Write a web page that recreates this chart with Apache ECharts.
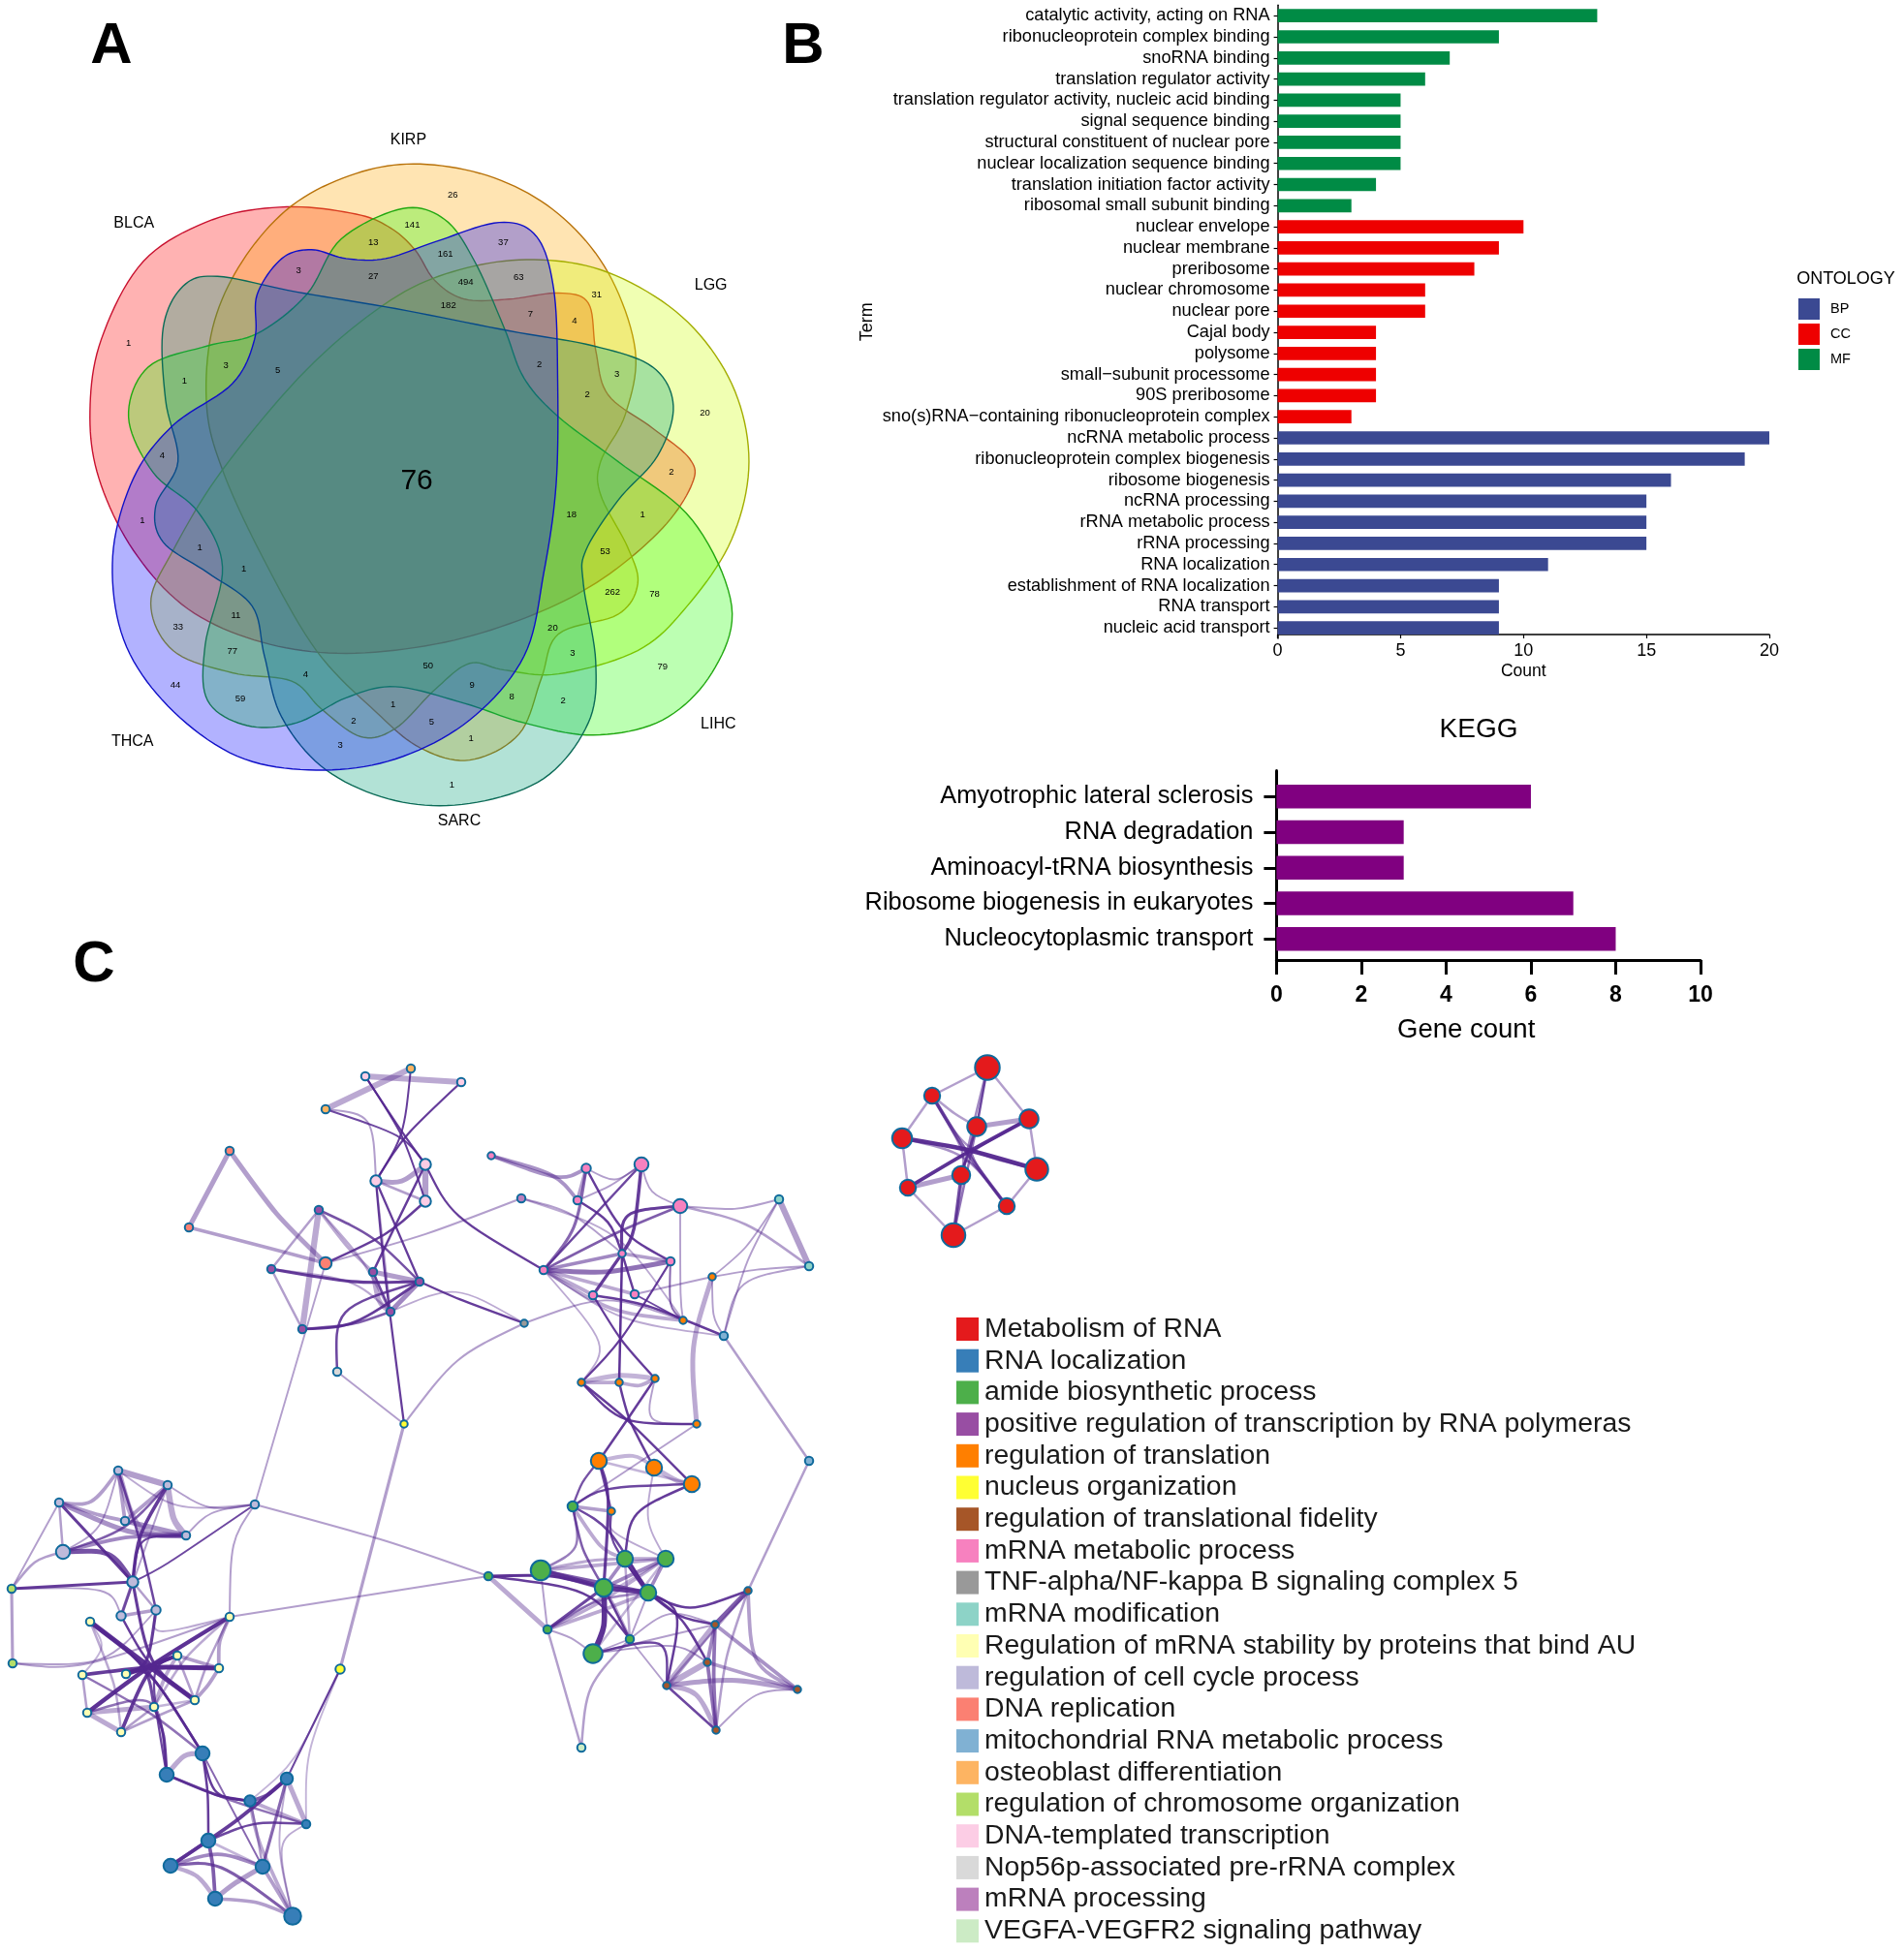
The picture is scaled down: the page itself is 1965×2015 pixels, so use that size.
<!DOCTYPE html>
<html><head><meta charset="utf-8">
<style>html,body{margin:0;padding:0;background:#fff}#chart{width:1965px;height:2015px}</style>
<script src="https://cdn.jsdelivr.net/npm/echarts@6/dist/echarts.min.js"></script>
</head><body><div id="chart"></div>
<script>
// ---------- Panel B: enrichment terms ----------
const goTerms = ['catalytic activity, acting on RNA','ribonucleoprotein complex binding','snoRNA binding','translation regulator activity','translation regulator activity, nucleic acid binding','signal sequence binding','structural constituent of nuclear pore','nuclear localization sequence binding','translation initiation factor activity','ribosomal small subunit binding','nuclear envelope','nuclear membrane','preribosome','nuclear chromosome','nuclear pore','Cajal body','polysome','small\u2212subunit processome','90S preribosome','sno(s)RNA\u2212containing ribonucleoprotein complex','ncRNA metabolic process','ribonucleoprotein complex biogenesis','ribosome biogenesis','ncRNA processing','rRNA metabolic process','rRNA processing','RNA localization','establishment of RNA localization','RNA transport','nucleic acid transport'];
const goMF = [13,9,7,6,5,5,5,5,4,3];
const goCC = [10,9,8,6,6,4,4,4,4,3];
const goBP = [20,19,16,15,15,15,11,9,9,9];
const goXTicks = {min:0,max:20,interval:5};
// ---------- Panel B: KEGG ----------
const keggTerms = ['Amyotrophic lateral sclerosis','RNA degradation','Aminoacyl-tRNA biosynthesis','Ribosome biogenesis in eukaryotes','Nucleocytoplasmic transport'];
const keggCounts = [6,3,3,7,8];
// ---------- Panel A: Venn (outline points and label anchors in venn layout units) ----------
const vennSetNames = ['BLCA','KIRP','LGG','LIHC','SARC','THCA'];
const vennBLCA = [[580,372],[720,385],[790,410],[840,450],[880,505],[940,538],[1030,538],[1130,527],[1190,545],[1205,630],[1230,710],[1320,770],[1395,825],[1400,870],[1340,950],[1220,1040],[1080,1105],[900,1155],[700,1175],[530,1155],[380,1095],[270,990],[200,860],[182,740],[205,610],[290,470],[430,395]];
const vennKIRP = [[850,295],[1000,320],[1130,385],[1230,490],[1285,630],[1265,745],[1215,830],[1215,890],[1270,985],[1290,1050],[1250,1105],[1130,1140],[1095,1220],[1050,1320],[950,1367],[850,1345],[760,1280],[640,1170],[530,1000],[450,845],[418,730],[430,590],[490,470],[590,370],[720,312]];
const vennLGG = [[1080,467],[1230,490],[1380,570],[1480,690],[1515,830],[1480,970],[1390,1090],[1290,1170],[1130,1212],[1020,1205],[950,1193],[880,1240],[800,1310],[730,1325],[650,1275],[590,1225],[470,1210],[350,1170],[305,1085],[350,990],[450,845],[620,665],[790,540],[930,485]];
const vennLIHC = [[815,375],[900,395],[960,470],[1020,590],[1060,680],[1130,750],[1250,830],[1400,935],[1480,1090],[1440,1210],[1340,1295],[1200,1322],[1060,1300],[940,1265],[800,1235],[700,1255],[600,1300],[500,1305],[420,1260],[415,1160],[450,1020],[400,920],[310,850],[260,750],[300,660],[420,622],[520,600],[620,530],[690,430]];
const vennSARC = [[440,497],[600,525],[800,555],[1030,595],[1200,622],[1320,660],[1362,730],[1330,820],[1250,900],[1185,990],[1180,1050],[1205,1190],[1190,1300],[1100,1400],[950,1445],[800,1440],[660,1385],[570,1290],[535,1180],[510,1090],[420,1030],[330,975],[315,910],[360,830],[335,720],[330,590],[370,515]];
const vennTHCA = [[630,449],[700,465],[780,465],[880,435],[1010,400],[1085,425],[1120,520],[1128,680],[1125,870],[1100,1030],[1060,1180],[950,1295],[800,1365],[640,1385],[480,1360],[340,1270],[250,1150],[228,1000],[270,860],[350,765],[470,690],[515,610],[520,530],[570,465]];
const vennOutlines = [vennBLCA,vennKIRP,vennLGG,vennLIHC,vennSARC,vennTHCA];
const vennFills = ['rgba(255,0,0,.3)','rgba(255,165,0,.3)','rgba(204,255,0,.3)','rgba(34,255,0,.3)','rgba(0,160,120,.3)','rgba(0,0,255,.3)'];
const vennStrokes = ['#c8102e','#b8720a','#a3ad00','#22a811','#0b6b57','#1010c8'];
const vennCounts = [[916,350,26],[834,404,141],[755,436,13],[1018,436,37],[901,457,161],[755,498,27],[1049,499,63],[942,507,494],[604,486,3],[1207,531,31],[907,549,182],[1073,566,7],[1162,577,4],[260,618,1],[562,666,5],[457,657,3],[373,686,1],[1091,656,2],[1248,674,3],[1188,710,2],[1426,743,20],[328,820,4],[1358,849,2],[1156,925,18],[1300,925,1],[288,936,1],[404,985,1],[1224,992,53],[493,1024,1],[1239,1065,262],[1324,1068,78],[477,1107,11],[360,1128,33],[1118,1130,20],[470,1172,77],[1158,1175,3],[866,1198,50],[1340,1200,79],[618,1213,4],[355,1232,44],[955,1233,9],[1035,1253,8],[486,1256,59],[1139,1261,2],[795,1268,1],[715,1296,2],[873,1298,5],[953,1328,1],[688,1340,3],[914,1412,1]];
const vennCore = [[843,866,76]];
const vennLabels = [[271,402,'BLCA'],[826,252,'KIRP'],[1438,513,'LGG'],[1453,1302,'LIHC'],[268,1334,'THCA'],[929,1477,'SARC']];
// ---------- Panel C: network clusters [id, x, y, size] ----------
const nMetabolism = [['x1',1019,1102,24],['x2',962,1131,15],['x3',1062,1155,18],['x4',1008,1163,18],['x5',931,1175,19],['x6',1070,1207,22],['x7',992,1213,17],['x8',937,1226,15],['x9',1039,1245,15],['x10',984,1275,23]];
const nRNALoc = [['l1',209,1810,13],['l2',172,1832,13],['l3',258,1859,10],['l4',296,1836,11],['l5',316,1883,7],['l6',215,1900,13],['l7',176,1926,13],['l8',271,1927,13],['l9',222,1960,13],['l10',302,1978,16]];
const nAmide = [['a0',591,1555,9],['a1',504,1627,7],['A1',558,1621,19],['A2',645,1609,15],['A3',687,1609,15],['A4',623,1639,17],['A5',669,1644,15],['a2',565,1682,7],['a3',650,1692,7],['A6',612,1707,18]];
const nPosReg = [['r1',329,1249,7],['r2',280,1310,7],['r3',385,1313,7],['r4',433,1323,7],['r5',403,1354,7],['r6',312,1372,7]];
const nTranslation = [['o1',705,1363,6],['o2',735,1318,6],['o3',600,1427,6],['o4',639,1427,6],['o5',676,1423,6],['o6',719,1470,6],['O1',618,1508,15],['O2',675,1515,15],['O3',714,1532,15],['o7',631,1560,6]];
const nNucleus = [['y1',417,1470,6],['Y2',351,1723,8]];
const nFidelity = [['f1',772,1642,6],['f2',738,1677,6],['f3',730,1716,6],['f4',688,1740,6],['f5',823,1744,6],['f6',739,1786,6]];
const nMRNAMet = [['m0',507,1193,6],['m1',605,1206,8],['m2',662,1202,13],['m3',702,1245,13],['m4',596,1239,7],['m5',561,1311,7],['m6',642,1294,6],['m7',692,1302,7],['m8',612,1337,7],['m10',655,1336,7]];
const nTNF = [['g1',541,1366,6]];
const nModification = [['k1',804,1238,7],['k2',835,1307,7]];
const nStability = [['s1',93,1674,7],['s2',237,1669,7],['s3',183,1709,7],['s4',226,1722,7],['s5',85,1729,7],['s6',130,1728,7],['s7',201,1755,7],['s8',159,1762,7],['s9',90,1768,7],['s10',125,1788,7]];
const nCellCycle = [['c1',122,1518,7],['c2',173,1533,7],['c3',61,1551,7],['c4',129,1570,7],['c5',192,1585,7],['c6',65,1602,13],['c7',137,1633,10],['c8',161,1662,8],['c9',125,1668,8],['c10',263,1553,7]];
const nDNARep = [['d1',237,1188,7],['d2',195,1267,7],['d3',336,1304,11]];
const nMito = [['b1',747,1379,7],['b2',835,1508,7]];
const nOsteoblast = [['t2',424,1103,7],['t4',336,1145,7]];
const nChromosome = [['h1',12,1640,7],['h2',13,1717,7]];
const nTemplated = [['t1',377,1111,7],['t3',476,1117,7],['p1',388,1219,10],['p2',439,1202,10],['p3',439,1240,10]];
const nNop56 = [['w1',348,1416,7]];
const nProcessing = [['m9',538,1237,7]];
const nVEGFA = [['v1',600,1804,7]];
const clusterNames = ['Metabolism of RNA','RNA localization','amide biosynthetic process','positive regulation of transcription by RNA polymeras','regulation of translation','nucleus organization','regulation of translational fidelity','mRNA metabolic process','TNF-alpha/NF-kappa B signaling complex 5','mRNA modification','Regulation of mRNA stability by proteins that bind AU','regulation of cell cycle process','DNA replication','mitochondrial RNA metabolic process','osteoblast differentiation','regulation of chromosome organization','DNA-templated transcription','Nop56p-associated pre-rRNA complex','mRNA processing','VEGFA-VEGFR2 signaling pathway'];
const clusterColors = ['#e41a1c','#377eb8','#4daf4a','#984ea3','#ff7f00','#ffff33','#a65628','#f781bf','#999999','#8dd3c7','#ffffb3','#bebada','#fb8072','#80b1d3','#fdb462','#b3de69','#fccde5','#d9d9d9','#bc80bd','#ccebc5'];
const clusterNodes = [nMetabolism,nRNALoc,nAmide,nPosReg,nTranslation,nNucleus,nFidelity,nMRNAMet,nTNF,nModification,nStability,nCellCycle,nDNARep,nMito,nOsteoblast,nChromosome,nTemplated,nNop56,nProcessing,nVEGFA];
const hubs = {T:[417,1172],P:[408,1265],M:[642,1275],N:[641,1385],O:[648,1465],Y:[142,1585],Z:[153,1720],Rh:[997,1190]};
// edge: "from to width opacity [hub name or x,y]"
const edgesTop = ["t1 t3 5 .35","t2 t4 5 .35","t1 p2 1.8 .85 T","t2 p1 1.6 .85 T","t3 p1 1.8 .85 T","t1 p3 1.6 .85 T","t4 p2 1.6 .8 T","t4 p1 1.6 .4 385,1150","p1 p2 4 .4 415,1222","p1 p3 2 .4","p2 p3 5 .4","p1 r4 1.8 .85 P","p2 r3 2 .85 P","p3 d3 2 .85 400,1275","p1 y1 1.8 .85 395,1300","p2 m5 1.8 .85 465,1255","p1 r5 1.5 .4","r1 r6 5 .35","r1 r2 2 .4","r2 r6 2 .4 298,1345","r1 r4 2 .75 385,1275","r1 r3 2.5 .35 360,1290","r1 r5 2 .35 375,1300","r2 r4 2.5 .85 365,1325","r2 r5 1.8 .35 365,1320","r3 r4 4 .4","r3 r5 2 .8","r3 r5 4 .35 390,1345","r4 r5 4 .5","r6 r4 2.2 .85 365,1370","r6 r5 2 .7 365,1368","w1 r4 2 .8 345,1350","w1 y1 1.5 .4","d1 d2 4 .4","d1 d3 4 .4 285,1255","d2 d3 3 .4 285,1290","d3 c10 1.5 .4","y1 Y2 2.5 .4","Y2 l4 1.6 .8","Y2 l5 1.5 .3 315,1810","Y2 l3 1.5 .3 305,1820","r4 g1 1.8 .85 470,1340","r5 g1 1.4 .35 470,1325","y1 g1 1.6 .4 470,1400","d3 m9 1.6 .4 440,1275","g1 o1 1.5 .4 625,1335"];
const edgesRight = ["m0 m1 3 .45 580,1220","m0 m4 3 .45 575,1212","m1 m4 3 .4","m1 m2 1.5 .4 635,1222","m4 m2 1.5 .4 630,1225","m2 m3 1.5 .4 670,1232","m1 m7 2 .85 M","m4 m6 2 .85 630,1260","m2 m5 2 .8","m2 m6 2.8 .85 655,1275","m3 m6 2.5 .85 640,1250","m3 m5 2 .7 640,1270","m5 m1 2.5 .65 595,1270","m5 m7 4 .6 625,1315","m5 m6 3 .5","m5 m8 3 .35 600,1330","m5 m10 3 .35","m5 o1 3 .35 630,1355","m5 b1 1.5 .35 640,1365","m6 m7 3 .4","m6 m8 2.5 .85","m6 m10 2 .85","m6 o4 2 .9","m7 o3 1.8 .85 N","m8 o5 1.8 .85 N","m8 b1 2 .85 665,1345","m10 o1 1.5 .8","m7 o1 1.6 .65 690,1350","m3 o1 1.5 .4 702,1345","m9 o1 1.5 .35 640,1270","m9 m6 1.5 .4 590,1250","m3 k2 2 .4 770,1260","m3 k1 1.5 .4 760,1250","k1 k2 5 .4","k1 b1 1.5 .4 770,1300","k2 b1 1.5 .4 760,1320","k2 o2 1.5 .4 780,1310","k1 o2 1.5 .4 770,1290","o2 b1 1.5 .4 735,1360","o2 o6 4 .35 712,1390","o2 m10 1.5 .4","b1 b2 2 .4","b2 f1 2 .4","m5 o3 1.5 .35 630,1390","o3 o5 4 .3 640,1418","o3 o4 3 .35","o4 o5 3 .35 660,1432","o3 o6 2 .85 640,1470","o3 O3 2 .85 O","o4 O2 2 .85 O","o5 O1 2 .85 O","o5 o6 1.5 .4 665,1470","o6 a0 1.5 .4","O1 O2 3 .3 655,1500","O2 O3 4 .3 700,1530","O1 O3 2 .3","O3 a0 2 .8 620,1535","a0 O1 1.8 .75 600,1530","O1 o7 2 .75","O3 A2 2 .85 650,1560","O2 A3 1.5 .35 665,1570","O1 A4 2.5 .85 630,1540","a0 o7 3 .4","a0 A4 2 .7 600,1600","a0 A5 2 .8 628,1575","a0 A1 2 .55 600,1600","a0 A2 3 .35 620,1600","o7 A5 1.8 .8 628,1590","o7 A3 1.5 .35 625,1580","A1 A4 4 .75","A1 A5 3 .7 600,1630","A1 a2 1.6 .4","A1 A2 2.5 .35 610,1610","A1 A3 3 .35 625,1615","A2 A5 4 .85","A3 A4 3 .5","A3 A5 3 .5","A2 A4 3 .5","A2 A3 3 .35","A4 A5 4 .85","A4 A6 4.5 .9 625,1680","A4 a2 2.5 .8","A5 a2 2 .5 615,1650","A4 a3 2 .8","a3 A4 3 .35 635,1660","a2 A3 2.5 .35 620,1655","a2 A5 3 .35 615,1665","A2 a3 2 .35","a1 A4 2.5 .9 570,1625","a1 a3 2 .85 610,1640","a1 a2 4 .35","a1 s2 1.5 .4","a1 c10 1.5 .4 400,1590","A3 a2 2 .3","A3 A6 2 .3","A5 a3 1.6 .4","a2 A6 1.5 .4 590,1690","a2 v1 2 .4","a3 v1 2 .4 605,1740","a3 f4 1.5 .4","a3 f2 1.5 .4 690,1660","A6 a3 1.5 .4","A6 f4 2 .8 690,1688","A6 f3 1.5 .45 700,1695","A6 f2 1.5 .4","A5 f1 2 .85 710,1665","A5 f2 2 .85 700,1670","A5 f3 2 .85 705,1670","A5 f4 2 .85 705,1660","f1 f2 4 .7","f1 f4 2 .4","f1 f5 3 .4 775,1720","f1 f6 2 .4 748,1710","f2 f3 3 .5","f2 f4 5 .35","f2 f5 3 .45","f2 f6 3 .6 736,1730","f3 f4 5 .35","f3 f5 3 .4","f3 f6 3 .6","f4 f5 4 .4 755,1732","f4 f6 2 .8","f4 f6 4 .35 720,1745","f5 f6 1.5 .4 780,1745"];
const edgesLeft = ["c1 c2 5 .4","c1 c3 3 .4 95,1555","c1 c4 3 .4","c1 c6 1.5 .4 105,1580","c1 c5 5 .35 140,1585","c1 c8 2 .8 145,1590","c2 c4 3 .4","c2 c5 5 .35 178,1570","c2 c9 1.6 .4","c2 c6 2 .7 130,1580","c2 c7 2.8 .85 Y","c3 c6 2 .4","c3 c4 3 .4 105,1565","c3 c5 4 .45 135,1585","c3 c7 2.5 .85","c3 h1 1.5 .4","c6 h1 2 .4 35,1610","c6 c7 4 .75 115,1600","c6 c5 3 .5 130,1585","c4 c5 4 .45","c5 c7 1.8 .8 Y","c5 c10 1.5 .4 215,1560","c2 c10 1.5 .4 215,1560","c1 c10 1.5 .35 180,1560","c7 c8 2 .4","c7 c9 2.5 .7","c8 c9 3 .4","h1 c7 2.5 .85","h1 h2 2.5 .4","h1 c9 1.5 .4 115,1638","h2 c8 1.5 .4 110,1720","h2 s2 1.5 .4 80,1725","c10 c7 1.6 .8 165,1620","c10 s2 1.6 .4 238,1590","c8 s2 1.5 .35 155,1690","c7 s7 2.5 .85 Z","c9 s7 2 .85 Z","c8 s6 2.5 .85 Z","s1 s7 4 .9 Z","s2 s9 3.5 .9 Z","s3 s10 3 .85 Z","s4 s5 3 .85 Z","s4 s6 4 .85 Z","s8 s1 2.5 .8 Z","s3 s6 3 .9 Z","s9 s10 4 .35","s9 s8 4 .35 125,1765","s5 s9 2 .4","s4 s7 3 .4 215,1740","s2 s4 3 .4 225,1695","s2 s7 2 .4 212,1720","s3 s4 3 .4","s3 s7 2 .4","s3 s8 3 .35 170,1730","s10 s8 2 .4","s5 s1 1.5 .3 110,1700","s1 s10 2 .35 120,1740","s2 s8 2 .35 190,1710","s10 s7 2 .4 165,1770","s8 s7 2 .3","s1 l1 2 .8 Z","s6 l1 2.2 .85 Z","s3 l2 1.8 .8 Z","s9 l2 2 .6 165,1745","s5 l1 2 .6 160,1770","s8 l2 2.4 .85 170,1790","l1 l2 4 .35 190,1810","l2 l3 2.2 .85 225,1855","l1 l3 2 .85 220,1855","l1 l6 2 .85 215,1850","l1 l8 1.5 .65","l2 l5 2 .6 240,1860","l3 l4 3 .7 275,1855","l3 l5 3 .35","l4 l5 4 .35","l4 l7 3 .85 245,1880","l4 l8 2.5 .65","l3 l10 3 .35 265,1900","l5 l6 2 .8 262,1880","l5 l10 1.5 .35 285,1900","l4 l10 1.5 .35 285,1905","l6 l7 3 .5","l6 l9 3 .7 220,1925","l6 l8 2 .3","l7 l8 3 .5 225,1910","l7 l9 3.5 .35 205,1935","l7 l10 2.5 .7 225,1920","l8 l9 4 .4 240,1945","l8 l10 3 .4","l9 l10 3 .4 265,1962","l3 l8 2 .4 265,1890"];
const edgesRed = ["x1 x2 2 .4","x1 x3 2 .4","x2 x5 2 .4","x3 x6 2 .4","x5 x8 2 .4","x6 x9 2 .4","x8 x10 2 .4","x9 x10 2 .4","x2 x4 2 .4 985,1150","x3 x4 4 .4","x7 x8 4 .4","x5 x6 3.5 .9 995,1185","x3 x8 3 .9 Rh","x1 x4 2 .8","x4 x10 2 .6 1000,1200","x7 x10 2.5 .75","x2 x9 3 .7 Rh","x4 x9 2 .6 Rh","x4 x7 2 .7","x2 x7 2 .5 Rh","x3 x7 2 .5 Rh","x9 x7 1.5 .5 Rh","x1 x10 2 .5 Rh","x2 x6 2 .45 Rh","x5 x9 2 .45 Rh"];

// ---------- build ----------
const nodeById = {};
clusterNodes.forEach(c => c.forEach(n => nodeById[n[0]] = n));
const allEdges = edgesTop.concat(edgesRight, edgesLeft, edgesRed).map(s => {
  const p = s.split(' ');
  const a = nodeById[p[0]], b = nodeById[p[1]];
  let h = null;
  if (p[4]) h = hubs[p[4]] || p[4].split(',').map(Number);
  return {a, b, w:+p[2], op:+p[3], h};
});
function closedCurve(pts, steps){
  const out=[], n=pts.length;
  for(let i=0;i<n;i++){
    const p0=pts[(i-1+n)%n],p1=pts[i],p2=pts[(i+1)%n],p3=pts[(i+2)%n];
    for(let s=0;s<steps;s++){
      const t=s/steps,t2=t*t,t3=t2*t;
      out.push([0,1].map(k=>.5*(2*p1[k]+(p2[k]-p0[k])*t+(2*p0[k]-5*p1[k]+4*p2[k]-p3[k])*t2+(3*p1[k]-p0[k]-3*p2[k]+p3[k])*t3)));
    }
  }
  return out;
}
const FONT='"Liberation Sans", Arial, sans-serif';
const goSeries=(name,color,vals,offset)=>({type:'bar',name,stack:'go',xAxisIndex:0,yAxisIndex:0,barWidth:13.7,itemStyle:{color},
  data:goTerms.map((_,i)=> (i>=offset && i<offset+vals.length)? vals[i-offset]: null)});
const hiddenAxis=(min,max,gridIndex,inverse)=>({type:'value',min,max,gridIndex,inverse:!!inverse,show:false,splitLine:{show:false}});
const titleAt=(text,x,y,size,weight)=>({text,left:x,top:y,textAlign:'center',textVerticalAlign:'middle',padding:0,textStyle:{fontFamily:FONT,fontSize:size,fontWeight:weight||'normal',color:'#000'}});
const INVISIBLE='rgba(0,0,0,0)';
const vennText=(size)=>({show:true,position:'inside',formatter:p=>String(p.value[2]),fontSize:size,color:'#000',opacity:1});

const option={
  animation:false,backgroundColor:'#fff',textStyle:{fontFamily:FONT,color:'#000'},
  title:[titleAt('A',115,48,60,'bold'),titleAt('B',829,48,60,'bold'),titleAt('C',97,996,60,'bold'),titleAt('KEGG',1526,753,28),titleAt('ONTOLOGY',1905,288,18)],
  legend:[
    {data:['BP','CC','MF'],orient:'vertical',left:1856,top:308,padding:0,itemWidth:22,itemHeight:22,itemGap:4,selectedMode:false,icon:'rect',textStyle:{fontSize:14.5,color:'#000',padding:[0,0,0,6]}},
    {data:clusterNames,orient:'vertical',left:987,top:1358,padding:0,itemWidth:23,itemHeight:24,itemGap:4.7,selectedMode:false,icon:'rect',itemStyle:{borderWidth:0},textStyle:{fontSize:28.4,lineHeight:24,color:'#1a1a1a',padding:[0,0,0,1]}}
  ],
  grid:[
    {left:1318.6,top:5.3,width:507.4,height:653.7},
    {left:1317.4,top:804,width:437.6,height:183.5},
    {left:1317.4,top:795.5,width:437.6,height:195.5},
    {left:0,top:0,width:800,height:900},
    {left:0,top:1080,width:1100,height:935}
  ],
  xAxis:[
    {gridIndex:0,type:'value',min:goXTicks.min,max:goXTicks.max,interval:goXTicks.interval,offset:-4,splitLine:{show:false},
      axisLine:{show:true,lineStyle:{color:'#000',width:1.5}},axisTick:{show:true,length:4,lineStyle:{color:'#000',width:1.2}},
      axisLabel:{fontSize:18,color:'#000',margin:8},name:'Count',nameLocation:'middle',nameGap:29,nameTextStyle:{fontSize:17.5,color:'#000'}},
    {gridIndex:1,type:'value',min:0,max:10,show:false,splitLine:{show:false}},
    {gridIndex:2,type:'value',min:0,max:10,interval:2,splitLine:{show:false},
      axisLine:{show:true,lineStyle:{color:'#000',width:3}},axisTick:{show:true,length:15,lineStyle:{color:'#000',width:3}},
      axisLabel:{fontSize:23,fontWeight:'bold',color:'#000',margin:25},name:'Gene count',nameLocation:'middle',nameGap:58,nameTextStyle:{fontSize:27.5,color:'#000',padding:[0,46,0,0]}},
    hiddenAxis(0,1568,3),
    hiddenAxis(0,1100,4)
  ],
  yAxis:[
    {gridIndex:0,type:'category',data:goTerms,inverse:true,axisLine:{show:true,lineStyle:{color:'#000',width:1.5}},
      axisTick:{show:true,alignWithLabel:true,length:4,lineStyle:{color:'#000',width:1.2}},axisLabel:{fontSize:18.2,color:'#000',margin:8,interval:0},
      name:'Term',nameLocation:'middle',nameGap:415,nameRotate:90,nameTextStyle:{fontSize:18,color:'#000'}},
    {gridIndex:1,type:'category',data:keggTerms,inverse:true,axisLine:{show:false},
      axisTick:{show:true,alignWithLabel:true,length:13,lineStyle:{color:'#000',width:3}},axisLabel:{fontSize:25.4,color:'#000',margin:24,interval:0}},
    {gridIndex:2,type:'value',min:0,max:1,splitLine:{show:false},axisLabel:{show:false},axisTick:{show:false},axisLine:{show:true,lineStyle:{color:'#000',width:3}}},
    hiddenAxis(0,1568,3,true),
    hiddenAxis(1080,2015,4,true)
  ],
  series:[
    goSeries('BP','#3b4992',goBP,20),goSeries('CC','#ee0000',goCC,10),goSeries('MF','#008b45',goMF,0),
    {type:'bar',name:'KEGG',xAxisIndex:1,yAxisIndex:1,barWidth:24.5,itemStyle:{color:'#800080'},data:keggCounts},
    {type:'custom',name:'venn sets',xAxisIndex:3,yAxisIndex:3,silent:true,z:2,clip:false,encode:{x:1,y:2},
      data:vennOutlines.map((o,i)=>[i,o[0][0],o[0][1]]),
      renderItem:(params,api)=>{const i=api.value(0);
        return {type:'polygon',shape:{points:closedCurve(vennOutlines[i],10).map(p=>api.coord(p))},style:{fill:vennFills[i],stroke:vennStrokes[i],lineWidth:1.4}};}},
    {type:'scatter',name:'venn counts',xAxisIndex:3,yAxisIndex:3,silent:true,z:3,symbolSize:1,itemStyle:{color:INVISIBLE},data:vennCounts,label:vennText(9.5)},
    {type:'scatter',name:'venn core',xAxisIndex:3,yAxisIndex:3,silent:true,z:3,symbolSize:1,itemStyle:{color:INVISIBLE},data:vennCore,label:vennText(30)},
    {type:'scatter',name:'venn names',xAxisIndex:3,yAxisIndex:3,silent:true,z:3,symbolSize:1,itemStyle:{color:INVISIBLE},data:vennLabels,label:vennText(16)},
    {type:'custom',name:'network edges',xAxisIndex:4,yAxisIndex:4,silent:true,z:4,clip:false,encode:{x:1,y:2},
      data:allEdges.map((e,i)=>[i,e.a[1],e.a[2]]),
      renderItem:(params,api)=>{const e=allEdges[api.value(0)];
        const A=api.coord([e.a[1],e.a[2]]),B=api.coord([e.b[1],e.b[2]]);
        const C=e.h?api.coord(e.h):[(A[0]+B[0])/2,(A[1]+B[1])/2];
        return {type:'bezierCurve',shape:{x1:A[0],y1:A[1],x2:B[0],y2:B[1],cpx1:C[0],cpy1:C[1],cpx2:C[0],cpy2:C[1]},
          style:{fill:'none',stroke:'rgba(84,39,143,'+Math.min(1,e.op+.05)+')',lineWidth:e.w*1.25,lineCap:'round'}};}}
  ].concat(clusterNames.map((name,i)=>({type:'scatter',name,xAxisIndex:4,yAxisIndex:4,silent:true,z:5,
    symbolSize:v=>v[2]+1.5,itemStyle:{color:clusterColors[i],borderColor:'#0f6a9c',borderWidth:2,opacity:1},
    data:clusterNodes[i].map(n=>[n[1],n[2],n[3]])})))
};
const chart=echarts.init(document.getElementById('chart'),null,{renderer:'canvas',width:1965,height:2015});
chart.setOption(option);
</script></body></html>
